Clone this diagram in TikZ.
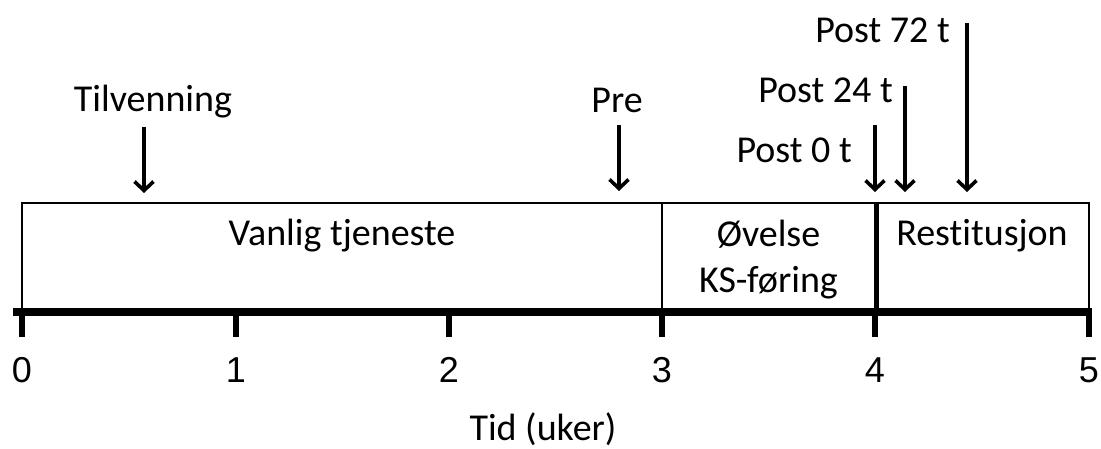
\documentclass[tikz,border=0pt]{standalone}
\usepackage{fontspec}
\setmainfont{Carlito}[Ligatures=NoCommon]
\newfontfamily\numfont{Liberation Sans}
\usetikzlibrary{arrows.meta}

\tikzset{
  lbl/.style={inner sep=0pt, font=\fontsize{38}{46}\selectfont},
  numlbl/.style={inner sep=0pt, anchor=base, font=\numfont\fontsize{36}{43}\selectfont},
  phase/.style={draw, line width=2.8pt, inner sep=0pt, minimum height=109pt},
  divider/.style={line width=4.5pt},
  axisline/.style={line width=8pt},
  tickmark/.style={line width=6pt},
  marker/.style={line width=3.6pt, -{Straight Barb[length=9pt,width=19pt]}}
}

\begin{document}
\begin{tikzpicture}[x=1pt, y=-1pt]
  \useasboundingbox (0,0) rectangle (1101,449);

  % phase boxes (top edge at 203, bottom edge on the axis at 312)
  \node[phase, minimum width=640pt] (vanlig) at (342,257.5) {};
  \node[phase, minimum width=213pt] (ovelse) at (768.5,257.5) {};
  \node[phase, minimum width=214pt] (restit) at (982,257.5) {};
  \draw[divider] (ovelse.north east) -- (ovelse.south east);

  % phase texts
  \node[lbl, anchor=base] (t1) at (342,246) {Vanlig tjeneste};
  \node[lbl, anchor=base] (t2) at (768.5,247) {Øvelse};
  \node[lbl, anchor=base] (t3) at (768.5,292) {KS-føring};
  \node[lbl, anchor=base] (t4) at (982,246) {Restitusjon};

  % time axis with week ticks
  \coordinate (axL) at (13,312);
  \coordinate (axR) at (1092,312);
  \draw[axisline] (axL) -- (axR);
  \foreach \i/\x in {0/22,1/236,2/449,3/662,4/875,5/1089}{
    \coordinate (tk\i) at (\x,310);
    \coordinate (tb\i) at (\x,337);
    \draw[tickmark] (tk\i) -- (tb\i);
    \node[numlbl] (n\i) at (\x,382) {\i};
  }
  \node[lbl, anchor=base] (tid) at (543,440) {Tid (uker)};

  % measurement points
  \node[lbl, anchor=base] (tilv) at (153,112) {Tilvenning};
  \node[lbl, anchor=base] (pre) at (617,113) {Pre};
  \node[lbl, anchor=base east] (p0) at (852,163) {Post 0 t};
  \node[lbl, anchor=base east] (p24) at (893,103) {Post 24 t};
  \node[lbl, anchor=base east] (p72) at (950,43) {Post 72 t};

  \coordinate (a1s) at (144,127); \coordinate (a1e) at (144,193);
  \coordinate (a2s) at (619,125); \coordinate (a2e) at (619,191);
  \coordinate (a3s) at (875,125); \coordinate (a3e) at (875,192);
  \coordinate (a4s) at (905,86);  \coordinate (a4e) at (905,192);
  \coordinate (a5s) at (967,23);  \coordinate (a5e) at (967,192);
  \draw[marker] (a1s) -- (a1e);
  \draw[marker] (a2s) -- (a2e);
  \draw[marker] (a3s) -- (a3e);
  \draw[marker] (a4s) -- (a4e);
  \draw[marker] (a5s) -- (a5e);
\end{tikzpicture}
\end{document}
